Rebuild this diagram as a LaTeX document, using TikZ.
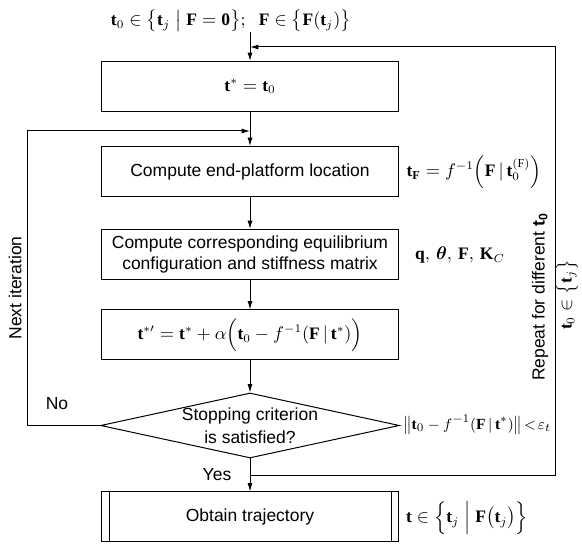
\documentclass[tikz,border=0pt]{standalone}
\usepackage{amsmath}
\usepackage{fontspec}
\setmainfont{Liberation Sans}
\setmathrm{Liberation Serif}
\usetikzlibrary{arrows.meta,shapes.geometric}

\begin{document}
\begin{tikzpicture}[x=0.6pt, y=-0.6pt,
    font=\fontsize{10.5}{12.5}\selectfont,
    stepbox/.style={rectangle, draw, line width=0.6pt, minimum width=178.2pt, minimum height=30pt, align=center, inner sep=2pt},
    checkbox/.style={diamond, draw, line width=0.6pt, aspect=4.6, inner sep=0pt, minimum width=178.8pt, minimum height=39pt, align=center, font=\fontsize{10.5}{13.5}\selectfont},
    flowarrow/.style={-{Latex[length=5pt,width=3pt]}, line width=0.6pt},
    flowline/.style={line width=0.6pt}
]
    \useasboundingbox (0,0) rectangle (582,544);

    \node[inner sep=0pt] (given) at (231,21) {$\mathbf{t}_0 \in \bigl\{ \mathbf{t}_j \;\big|\; \mathbf{F}=\mathbf{0} \bigr\};\;\; \mathbf{F}\in\bigl\{\mathbf{F}(\mathbf{t}_j)\bigr\}$};
    \node[stepbox] (init) at (250,86.5) {$\mathbf{t}^{*}=\mathbf{t}_0$};
    \node[stepbox] (locate) at (250,171.5) {Compute end-platform location};
    \node[stepbox] (equil) at (250,254.5) {Compute corresponding equilibrium\\configuration and stiffness matrix};
    \node[stepbox] (update) at (250,335) {$\mathbf{t}^{*\prime}=\mathbf{t}^{*}+\alpha\Bigl(\mathbf{t}_0-f^{-1}(\mathbf{F}\,|\,\mathbf{t}^{*})\Bigr)$};
    \node[checkbox] (check) at (250,425.5) {Stopping criterion\\is satisfied?};
    \node[stepbox] (result) at (250,517) {Obtain trajectory};
    \draw[flowline] ([xshift=4.8pt]result.north west) -- ([xshift=4.8pt]result.south west);
    \draw[flowline] ([xshift=-4.8pt]result.north east) -- ([xshift=-4.8pt]result.south east);

    % side labels
    \node (tfoot) at (474,172) {$\mathbf{t}_{\mathbf{F}}=f^{-1}\Bigl(\mathbf{F}\,|\,\mathbf{t}_0^{(\mathrm{F})}\Bigr)$};
    \node (state) at (460,255) {$\mathbf{q},\,\boldsymbol{\theta},\,\mathbf{F},\,\mathbf{K}_C$};
    \node[inner sep=0pt, font=\fontsize{9.3}{11}\selectfont] (crit) at (477,425) {$\bigl\|\mathbf{t}_0-f^{-1}(\mathbf{F}\,|\,\mathbf{t}^{*})\bigr\|\!<\!\varepsilon_t$};
    \node (traj) at (467,518) {$\mathbf{t}\in\Bigl\{\mathbf{t}_j \;\Big|\; \mathbf{F}\bigl(\mathbf{t}_j\bigr)\Bigr\}$};
    \node[rotate=90] (repeat) at (540,297) {Repeat for different \textbf{t\textsubscript{0}}};
    \node[rotate=90] (subset) at (567,295) {$\mathbf{t}_0\in\bigl\{\mathbf{t}_j\bigr\}$};
    \node[rotate=90] (nextit) at (15,288) {Next iteration};
    \node (no) at (57,404) {No};
    \node (yes) at (217,475) {Yes};

    \coordinate (leftjoin) at (250,131);
    \coordinate (yesjoin) at (250,476);
    \coordinate (topjoin) at (250,47);
    \coordinate (rightcorner) at (555,47);

    \draw[flowarrow] (init.north |- given.south) -- (init);
    \draw[flowarrow] (init) -- (locate);
    \draw[flowarrow] (locate) -- (equil);
    \draw[flowarrow] (equil) -- (update);
    \draw[flowarrow] (update) -- (check);
    \draw[flowarrow] (check) -- (result);
    \draw[flowarrow] (check.west) -- ++(-73,0) |- (leftjoin);
    \draw[flowarrow] (yesjoin) -| (rightcorner) -- (topjoin);
\end{tikzpicture}
\end{document}
